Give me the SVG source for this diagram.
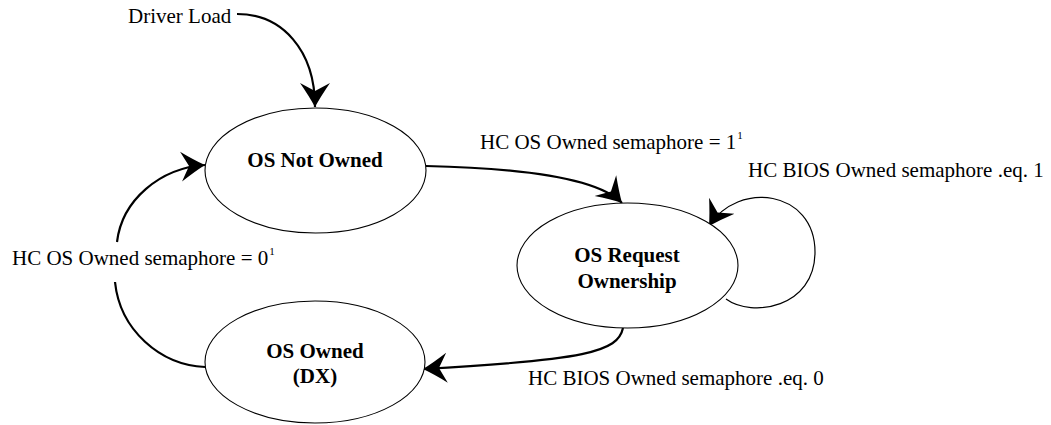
<svg xmlns="http://www.w3.org/2000/svg" width="1051" height="425" viewBox="0 0 1051 425">
  <style>
    .node { fill: #ffffff; stroke: #000000; stroke-width: 1.1; }
    .ntext { font-family: "Liberation Serif", "Times New Roman", serif; font-size: 21px; font-weight: bold; fill: #000000; text-anchor: middle; }
    .label { font-family: "Liberation Serif", "Times New Roman", serif; font-size: 21px; fill: #000000; }
    .sup { font-size: 11px; }
    .edge { fill: none; stroke: #000000; stroke-width: 2.2; marker-end: url(#arrow); }
    .edge.thin { stroke-width: 1.2; }
  </style>
  <defs>
    <marker id="arrow" markerUnits="userSpaceOnUse" viewBox="0 -16 26 32" markerWidth="26" markerHeight="32" refX="24" refY="0" orient="auto">
      <path d="M24,0 Q13,-6 0,-15 L8,0 L0,15 Q13,6 24,0 Z" fill="#000000"/>
    </marker>
  </defs>
  <rect width="1051" height="425" fill="#ffffff"/>

  <g id="connectors">
    <path id="e-driver" class="edge" d="M237,14 C282,14 315,50 315,107"/>
    <path id="e-notowned-request" class="edge" d="M426,166 C520,168 598,178 622,203"/>
    <path id="e-request-loop" class="edge thin" d="M726,299 C752,318 815,308 815,252 C815,190 738,180 709,226"/>
    <path id="e-request-owned" class="edge" d="M623,328 C618,352 585,360 423,369"/>
    <path id="e-owned-notowned" class="edge" d="M205,367 C160,365 120,330 115,282 M117,242 C122,200 160,168 205,165"/>
  </g>

  <g id="node-os-not-owned">
    <ellipse class="node" cx="315.5" cy="170.5" rx="110.5" ry="62.5"/>
    <text class="ntext" x="315" y="167">OS Not Owned</text>
  </g>
  <g id="node-os-request-ownership">
    <ellipse class="node" cx="627.5" cy="265.5" rx="110.5" ry="62.5"/>
    <text class="ntext" x="627" y="262">OS Request</text>
    <text class="ntext" x="627" y="288">Ownership</text>
  </g>
  <g id="node-os-owned">
    <ellipse class="node" cx="315" cy="362" rx="110" ry="61"/>
    <text class="ntext" x="315" y="358">OS Owned</text>
    <text class="ntext" x="315" y="383">(DX)</text>
  </g>

  <g id="labels">
    <text class="label" x="128" y="23">Driver Load</text>
    <text class="label" x="480" y="149">HC OS Owned semaphore = 1<tspan class="sup" dx="1" dy="-10">1</tspan></text>
    <text class="label" x="748" y="177">HC BIOS Owned semaphore .eq. 1</text>
    <text class="label" x="12" y="265">HC OS Owned semaphore = 0<tspan class="sup" dx="1" dy="-10">1</tspan></text>
    <text class="label" x="528" y="385">HC BIOS Owned semaphore .eq. 0</text>
  </g>
</svg>
